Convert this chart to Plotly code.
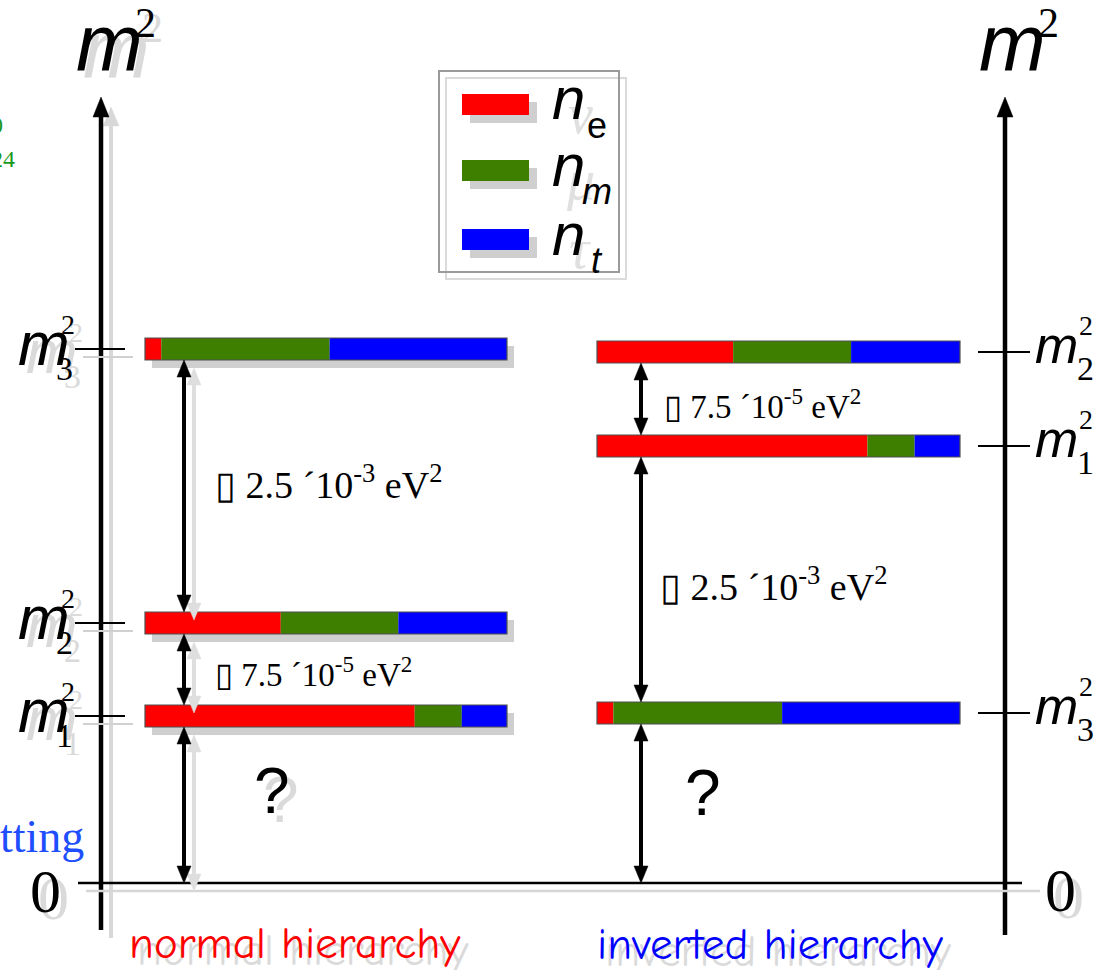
import plotly.graph_objects as go

W, H = 1100, 970

# ---- data ---------------------------------------------------------------
flavour_subs = ["e", "m", "t"]                       # key subscripts
flavour_shadow = ["ν", "μ", "τ"]
flavour_colors = ["#ff0000", "#3f7f00", "#0000ff"]

# flavour fractions (e, mu, tau) carried by each mass eigenstate
mix_nu1 = [0.745, 0.13, 0.125]
mix_nu2 = [0.375, 0.325, 0.30]
mix_nu3 = [0.045, 0.465, 0.49]
mixing = {"1": mix_nu1, "2": mix_nu2, "3": mix_nu3}

# schematic m^2 levels (arbitrary units, not to scale)
normal_states = ["1", "2", "3"]
normal_levels = [1.67, 2.60, 5.34]
inverted_states = ["3", "1", "2"]
inverted_levels = [1.70, 4.37, 5.31]

split_solar = "▯ 7.5 ´10<sup>-5</sup> eV<sup>2</sup>"
split_atm = "▯ 2.5 ´10<sup>-3</sup> eV<sup>2</sup>"
zero_label = "0"
panel_titles = ["normal hierarchy", "inverted hierarchy"]
unknown_label = "?"

# ---- geometry -----------------------------------------------------------
Y0 = 883          # pixel row of m^2 = 0
UNIT = 100        # pixels per level unit
BAR_H = 0.22      # bar thickness in level units
HW = BAR_H / 2
NORMAL_SPAN = (145, 507)
INVERTED_SPAN = (597, 960)
SHADOW = "#d0d0d0"
TSHADOW = "#dadada"
SERIF = "Liberation Serif, Times New Roman, serif"
SANS = "Liberation Sans, Arial, sans-serif"
COMIC = "Comic Sans MS, Comic Neue, DejaVu Sans, sans-serif"


def xr(span):
    a, b = span
    return [-a / (b - a), (W - a) / (b - a)]


def xp(px):
    return px / W


def yp(py):
    return 1 - py / H


fig = go.Figure()

# ---- level bars ---------------------------------------------------------
panels = [("x", normal_states, normal_levels, NORMAL_SPAN, True),
          ("x2", inverted_states, inverted_levels, INVERTED_SPAN, False)]
for axis, states, levels, span, shadow in panels:
    n = len(states)
    if shadow:
        dx = 7 / (span[1] - span[0])
        fig.add_bar(x=[1] * n, base=[dx] * n, y=[l - 0.08 for l in levels],
                    orientation="h", width=BAR_H, xaxis=axis, yaxis="y",
                    marker=dict(color="#cfcfcf", line_width=0),
                    hoverinfo="skip", showlegend=False)
    cum = [0.0] * n
    for f in range(3):
        vals = [mixing[s][f] for s in states]
        fig.add_bar(x=vals, base=list(cum), y=levels, orientation="h",
                    width=BAR_H, xaxis=axis, yaxis="y",
                    marker=dict(color=flavour_colors[f], line_width=0),
                    hoverinfo="skip", showlegend=False)
        cum = [c + v for c, v in zip(cum, vals)]
    fig.add_bar(x=cum, base=[0] * n, y=levels, orientation="h", width=BAR_H,
                xaxis=axis, yaxis="y",
                marker=dict(color="rgba(0,0,0,0)",
                            line=dict(color="#505050", width=1.2)),
                hoverinfo="skip", showlegend=False)

shapes = []
ann = []


def pline(x0, y0, x1, y1, color="black", width=2):
    shapes.append(dict(type="line", xref="paper", yref="paper",
                       x0=xp(x0), y0=yp(y0), x1=xp(x1), y1=yp(y1),
                       line=dict(color=color, width=width), layer="above"))


def prect(x0, y0, x1, y1, fill=None, line_color=None, lw=0):
    shapes.append(dict(type="rect", xref="paper", yref="paper",
                       x0=xp(x0), y0=yp(y0), x1=xp(x1), y1=yp(y1),
                       fillcolor=fill or "rgba(0,0,0,0)",
                       line=dict(color=line_color or "rgba(0,0,0,0)", width=lw),
                       layer="above"))


def tri(xc, y_base, y_tip, half, color, yref="y"):
    if yref == "paper":
        y_base, y_tip = yp(y_base), yp(y_tip)
    path = (f"M {xp(xc - half)},{y_base} L {xp(xc + half)},{y_base} "
            f"L {xp(xc)},{y_tip} Z")
    shapes.append(dict(type="path", xref="paper", yref=yref, path=path,
                       fillcolor=color, line=dict(color=color, width=0.5),
                       layer="above"))


def text(x, y, s, size, color="black", family=SANS, xanchor="center",
         yanchor="middle", yref="paper"):
    ann.append(dict(x=xp(x), y=yp(y) if yref == "paper" else y,
                    xref="paper", yref=yref, text=s, showarrow=False,
                    xanchor=xanchor, yanchor=yanchor,
                    font=dict(size=size, color=color, family=family)))


def v_arrow(xpx, y_lo, y_hi, color="black", width=4, head=0.17, half=7):
    # double-headed vertical arrow between two level values
    shapes.append(dict(type="line", xref="paper", yref="y",
                       x0=xp(xpx), x1=xp(xpx), y0=y_lo + head * 0.5,
                       y1=y_hi - head * 0.5,
                       line=dict(color=color, width=width), layer="above"))
    tri(xpx, y_hi - head, y_hi, half, color)
    tri(xpx, y_lo + head, y_lo, half, color)


# ---- vertical m^2 axes --------------------------------------------------
pline(111, 120, 111, 938, "#d8d8d8", 4)
tri(111, 126, 107, 8, "#d8d8d8", yref="paper")
for ax_x, bottom in [(101, 930), (1005, 935)]:
    pline(ax_x, bottom, ax_x, 110, "black", 4.5)
    tri(ax_x, 117, 97, 8, "black", yref="paper")

# zero line
pline(86, 891, 1040, 891, "#d6d6d6", 2.5)
pline(78, Y0, 1022, Y0, "black", 2.5)

# level ticks
for lvl in normal_levels:
    py = Y0 - lvl * UNIT
    pline(83, py + 8, 133, py + 8, SHADOW, 2)
for lvl in normal_levels:
    py = Y0 - lvl * UNIT
    pline(75, py, 125, py, "black", 2)
for lvl in inverted_levels:
    py = Y0 - lvl * UNIT
    pline(978, py, 1030, py, "black", 2)

# ---- splitting arrows ---------------------------------------------------
nl = dict(zip(normal_states, normal_levels))
il = dict(zip(inverted_states, inverted_levels))
normal_gaps = [(0, nl["1"] - HW), (nl["1"] + HW, nl["2"] - HW),
               (nl["2"] + HW, nl["3"] - HW)]
inverted_gaps = [(0, il["3"] - HW), (il["3"] + HW, il["1"] - HW),
                 (il["1"] + HW, il["2"] - HW)]
for lo, hi in normal_gaps:
    v_arrow(194, lo - 0.08, hi - 0.08, "#dedede")
for lo, hi in normal_gaps:
    v_arrow(184, lo, hi)
for lo, hi in inverted_gaps:
    v_arrow(641, lo, hi)

# ---- splitting labels ---------------------------------------------------
text(213, 482, split_atm, 38, family=SERIF, xanchor="left")
text(213, 672, split_solar, 33, family=SERIF, xanchor="left")
text(658, 584, split_atm, 38, family=SERIF, xanchor="left")
text(662, 404, split_solar, 33, family=SERIF, xanchor="left")

# ---- axis titles m^2 ----------------------------------------------------
text(116, 50, "<i>m</i>", 80, TSHADOW)
text(152, 28, "2", 42, TSHADOW, family=SERIF)
text(109, 44, "<i>m</i>", 80)
text(145, 23, "2", 42, family=SERIF)
text(1012, 44, "<i>m</i>", 80)
text(1048, 23, "2", 42, family=SERIF)

# ---- level labels -------------------------------------------------------
for st, lvl in zip(normal_states, normal_levels):
    text(52, lvl + 0.06 - 0.08, "<i>m</i>", 62, TSHADOW, yref="y")
    text(76, lvl + 0.25 - 0.08, "2", 28, TSHADOW, family=SERIF, yref="y")
    text(72, lvl - 0.19 - 0.08, st, 34, TSHADOW, family=SERIF, yref="y")
for st, lvl in zip(normal_states, normal_levels):
    text(44, lvl + 0.06, "<i>m</i>", 62, yref="y")
    text(68, lvl + 0.25, "2", 28, family=SERIF, yref="y")
    text(64, lvl - 0.19, st, 34, family=SERIF, yref="y")
for st, lvl in zip(inverted_states, inverted_levels):
    text(1056, lvl + 0.07, "<i>m</i>", 52, yref="y")
    text(1086, lvl + 0.27, "2", 28, family=SERIF, yref="y")
    text(1085, lvl - 0.16, st, 34, family=SERIF, yref="y")

# zero labels
text(53, 898, zero_label, 62, TSHADOW, family=SERIF)
text(45, 891, zero_label, 62, family=SERIF)
text(1068, 897, zero_label, 62, TSHADOW, family=SERIF)
text(1060, 890, zero_label, 62, family=SERIF)

# unknown absolute scale
text(281, 800, unknown_label, 64, TSHADOW)
text(272, 791, unknown_label, 64)
text(703, 793, unknown_label, 64)

# ---- flavour key --------------------------------------------------------
prect(446, 78, 626, 279, line_color="#dadada", lw=2)
prect(439, 71, 619, 272, line_color="#9a9a9a", lw=2)
key_rows = [104, 170, 239]
for row in key_rows:
    prect(470, row - 2, 537, row + 19, fill="#cfcfcf")
for row, col in zip(key_rows, flavour_colors):
    prect(462, row - 10, 529, row + 11, fill=col)
for row, sh in zip(key_rows, flavour_shadow):
    text(580, row + 10, f"<i>{sh}</i>", 56, "#e0e0e0", family=SERIF)
for row, sub in zip(key_rows, flavour_subs):
    text(568, row - 5, "<i>n</i>", 60)
    sub_txt = sub if sub == "e" else f"<i>{sub}</i>"
    text(597, row + 22, sub_txt, 36)

# ---- panel titles -------------------------------------------------------
text(303, 950, panel_titles[0], 45, TSHADOW, family=COMIC)
text(295, 943, panel_titles[0], 45, "#ff0000", family=COMIC)
text(778, 951, panel_titles[1], 45, TSHADOW, family=COMIC)
text(770, 944, panel_titles[1], 45, "#0000ff", family=COMIC)

# clipped neighbouring text at the left edge
text(86, 836, "tting", 46, "#1f4eff", family=SERIF, xanchor="right")
text(5, 125, "0", 24, "#1a9a1a", family=SERIF, xanchor="right")
text(17, 159, "24", 24, "#1a9a1a", family=SERIF, xanchor="right")

fig.update_layout(
    width=W, height=H, margin=dict(l=0, r=0, t=0, b=0),
    paper_bgcolor="white", plot_bgcolor="white",
    barmode="overlay", showlegend=False, hovermode=False,
    xaxis=dict(range=xr(NORMAL_SPAN), visible=False, fixedrange=True),
    xaxis2=dict(range=xr(INVERTED_SPAN), overlaying="x", visible=False,
                fixedrange=True),
    yaxis=dict(range=[(Y0 - H) / UNIT, Y0 / UNIT], visible=False,
               fixedrange=True),
    shapes=shapes, annotations=ann,
)

fig.write_html("out.html")
